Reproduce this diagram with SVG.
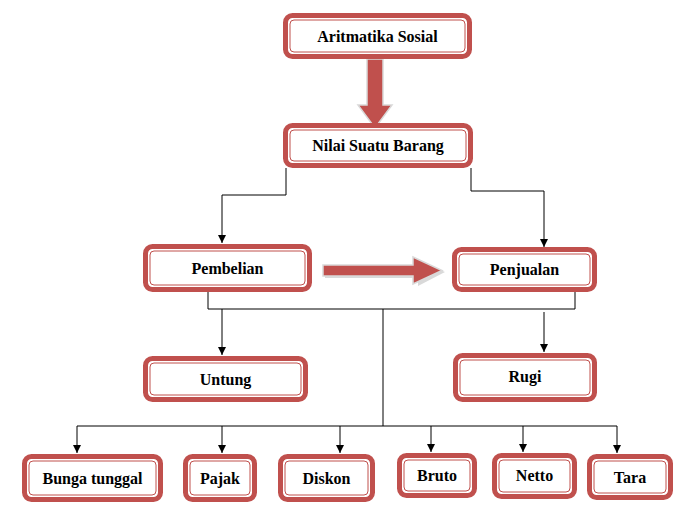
<svg xmlns="http://www.w3.org/2000/svg" width="687" height="513" viewBox="0 0 687 513">
<defs>
<style>
.outer{fill:#fff;stroke:#C0504D;stroke-width:5}
.inner{fill:none;stroke:#C0504D;stroke-width:1}
.lbl{font-family:"Liberation Serif","Times New Roman","DejaVu Serif",serif;font-weight:bold;font-size:16px;fill:#000;text-anchor:middle}
.ln{fill:none;stroke:#000;stroke-width:1}
.big{fill:#C0504D;stroke:#D9D9D9;stroke-width:1.5}
</style>
<marker id="ah" viewBox="0 0 10 10" refX="10" refY="5" markerWidth="8" markerHeight="8" markerUnits="userSpaceOnUse" orient="auto">
<path d="M0,0 L10,5 L0,10 z" fill="#000"/>
</marker>
</defs>
<rect width="687" height="513" fill="#fff"/>

<g id="connectors">
<path class="big" d="M367,59 L383,59 L383,105 L392,105 L375,128 L358,105 L367,105 Z"/>
<path d="M325,268 L416,268 L416,260 L445,272 L418,286 L418,278 L325,278 Z" fill="#d9d9d9"/>
<path class="big" d="M323,265 L413,265 L413,257 L442,270.5 L413,284 L413,276 L323,276 Z"/>
<path class="ln" d="M286,168 V195 H222 V243" marker-end="url(#ah)"/>
<path class="ln" d="M471,168 V191 H544 V247" marker-end="url(#ah)"/>
<path class="ln" d="M208,292 V309 H575 V292"/>
<path class="ln" d="M222,309 V355" marker-end="url(#ah)"/>
<path class="ln" d="M544,312 V352" marker-end="url(#ah)"/>
<path class="ln" d="M383,309 V426"/>
<path class="ln" d="M77,426 H617"/>
<path class="ln" d="M77,426 V453" marker-end="url(#ah)"/>
<path class="ln" d="M222,426 V453" marker-end="url(#ah)"/>
<path class="ln" d="M340,426 V453" marker-end="url(#ah)"/>
<path class="ln" d="M431,426 V452" marker-end="url(#ah)"/>
<path class="ln" d="M523,426 V452" marker-end="url(#ah)"/>
<path class="ln" d="M617,426 V453" marker-end="url(#ah)"/>
</g>

<g id="n-aritmatika">
<rect class="outer" x="285.5" y="15.5" width="184" height="41" rx="7"/>
<rect class="inner" x="290" y="20" width="175" height="32" rx="4"/>
<text class="lbl" x="377.5" y="41.5">Aritmatika Sosial</text>
</g>
<g id="n-nilai">
<rect class="outer" x="285.5" y="125.5" width="185" height="40" rx="7"/>
<rect class="inner" x="290" y="130" width="176" height="31" rx="4"/>
<text class="lbl" x="378" y="151">Nilai Suatu Barang</text>
</g>
<g id="n-pembelian">
<rect class="outer" x="145.5" y="246.5" width="164" height="43" rx="7"/>
<rect class="inner" x="150" y="251" width="155" height="34" rx="4"/>
<text class="lbl" x="227.5" y="273.5">Pembelian</text>
</g>
<g id="n-penjualan">
<rect class="outer" x="454.5" y="249.5" width="140" height="40" rx="7"/>
<rect class="inner" x="459" y="254" width="131" height="31" rx="4"/>
<text class="lbl" x="524.5" y="275">Penjualan</text>
</g>
<g id="n-untung">
<rect class="outer" x="145.5" y="358.5" width="160" height="41" rx="7"/>
<rect class="inner" x="150" y="363" width="151" height="32" rx="4"/>
<text class="lbl" x="225.5" y="384.5">Untung</text>
</g>
<g id="n-rugi">
<rect class="outer" x="455.5" y="355.5" width="139" height="44" rx="7"/>
<rect class="inner" x="460" y="360" width="130" height="35" rx="4"/>
<text class="lbl" x="525" y="382">Rugi</text>
</g>
<g id="n-bunga">
<rect class="outer" x="24.5" y="456.5" width="136" height="43" rx="7"/>
<rect class="inner" x="29" y="461" width="127" height="34" rx="4"/>
<text class="lbl" x="92.5" y="483.5">Bunga tunggal</text>
</g>
<g id="n-pajak">
<rect class="outer" x="185.5" y="456.5" width="69" height="43" rx="7"/>
<rect class="inner" x="190" y="461" width="60" height="34" rx="4"/>
<text class="lbl" x="220" y="483.5">Pajak</text>
</g>
<g id="n-diskon">
<rect class="outer" x="280.5" y="456.5" width="92" height="43" rx="7"/>
<rect class="inner" x="285" y="461" width="83" height="34" rx="4"/>
<text class="lbl" x="326.5" y="483.5">Diskon</text>
</g>
<g id="n-bruto">
<rect class="outer" x="399.5" y="455.5" width="75" height="40" rx="7"/>
<rect class="inner" x="404" y="460" width="66" height="31" rx="4"/>
<text class="lbl" x="437" y="480.5">Bruto</text>
</g>
<g id="n-netto">
<rect class="outer" x="494.5" y="455.5" width="80" height="41" rx="7"/>
<rect class="inner" x="499" y="460" width="71" height="32" rx="4"/>
<text class="lbl" x="534.5" y="480.5">Netto</text>
</g>
<g id="n-tara">
<rect class="outer" x="589.5" y="456.5" width="81" height="41" rx="7"/>
<rect class="inner" x="594" y="461" width="72" height="32" rx="4"/>
<text class="lbl" x="630" y="482.5">Tara</text>
</g>
</svg>
